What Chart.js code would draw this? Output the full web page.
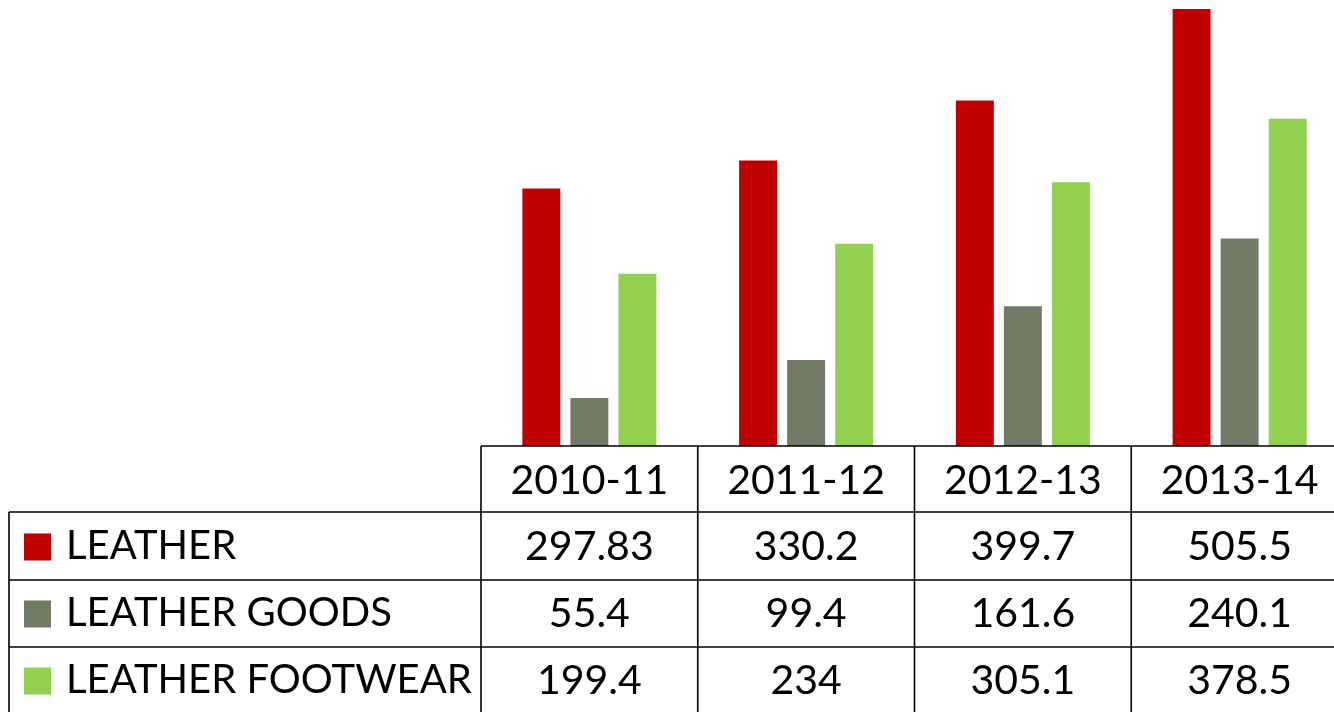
<!DOCTYPE html>
<html lang="en">
<head>
<meta charset="UTF-8">
<title>Leather exports</title>
<script src="https://cdn.jsdelivr.net/npm/chart.js"></script>
<style>
    body { margin: 0; background: #fff; overflow: hidden; }
    #wrap { width: 1348px; height: 712px; }
</style>
</head>
<body>
<div id="wrap"><canvas id="chart" width="1348" height="712"></canvas></div>
<script>
const years = ['2010-11', '2011-12', '2012-13', '2013-14'];
const seriesNames = ['LEATHER', 'LEATHER GOODS', 'LEATHER FOOTWEAR'];
const leather = [297.83, 330.2, 399.7, 505.5];
const leatherGoods = [55.4, 99.4, 161.6, 240.1];
const leatherFootwear = [199.4, 234, 305.1, 378.5];
const colors = ['#C00000', '#717B65', '#92D050'];

const FONT = '41px Lato';
const LABEL_FONT = '40px Lato';

// data table drawn under the plot, columns follow the category scale
const tablePlugin = {
    id: 'dataTable',
    afterDraw(chart) {
        const ctx = chart.ctx;
        const xs = chart.scales.x;
        const area = chart.chartArea;
        const colW = (area.right - area.left) / years.length;
        const top = area.bottom;
        const rowH = 67;
        const leftX = 9;
        const rows = [leather, leatherGoods, leatherFootwear];

        ctx.save();
        ctx.strokeStyle = '#000';
        ctx.lineWidth = 1.6;
        ctx.beginPath();
        // header row top (axis line)
        ctx.moveTo(area.left, top); ctx.lineTo(area.right, top);
        // row lines
        for (let r = 1; r <= 4; r++) {
            const y = top + rowH * r - (r === 1 ? 1 : 0);
            ctx.moveTo(leftX, y); ctx.lineTo(area.right, y);
        }
        // vertical lines
        ctx.moveTo(leftX, top + rowH - 1); ctx.lineTo(leftX, 760);
        for (let c = 0; c <= years.length; c++) {
            const x = area.left + c * colW;
            ctx.moveTo(x, top); ctx.lineTo(x, 760);
        }
        ctx.stroke();

        ctx.fillStyle = '#000';
        ctx.font = FONT;
        ctx.textBaseline = 'middle';
        ctx.textAlign = 'center';
        years.forEach((y, i) => {
            ctx.fillText(y, xs.getPixelForValue(i), top + rowH / 2 + 1);
        });
        rows.forEach((vals, r) => {
            const cy = top + rowH * (r + 1) + rowH / 2;
            ctx.textAlign = 'center';
            ctx.fillStyle = '#000';
            ctx.font = FONT;
            vals.forEach((v, i) => ctx.fillText(String(v), xs.getPixelForValue(i), cy));
            ctx.fillStyle = colors[r];
            ctx.fillRect(24, cy - 13, 27, 27);
            ctx.fillStyle = '#000';
            ctx.textAlign = 'left';
            ctx.font = LABEL_FONT;
            ctx.fillText(seriesNames[r], 66, cy);
        });
        ctx.restore();
    }
};

new Chart(document.getElementById('chart'), {
    type: 'bar',
    data: {
        labels: years,
        datasets: [
            { label: seriesNames[0], data: leather, backgroundColor: colors[0] },
            { label: seriesNames[1], data: leatherGoods, backgroundColor: colors[1] },
            { label: seriesNames[2], data: leatherFootwear, backgroundColor: colors[2] }
        ]
    },
    options: {
        responsive: false,
        animation: false,
        layout: { padding: { left: 481, right: 0, top: 0, bottom: 266 } },
        datasets: { bar: { categoryPercentage: 0.665, barPercentage: 0.79 } },
        plugins: { legend: { display: false }, tooltip: { enabled: false } },
        scales: {
            x: { display: false },
            y: { display: false, min: 0, max: 516 }
        }
    },
    plugins: [tablePlugin]
});
</script>
</body>
</html>
